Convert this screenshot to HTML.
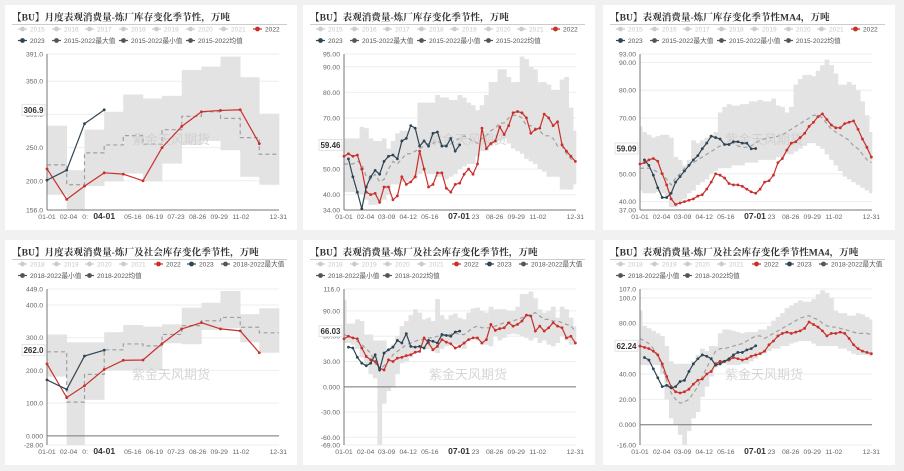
<!DOCTYPE html>
<html><head><meta charset="utf-8">
<style>
html,body{margin:0;padding:0;background:#f1f1f1;width:904px;height:471px;overflow:hidden}
svg{display:block}
text{font-family:"Liberation Sans","Noto Sans CJK SC",sans-serif}
.t{font-family:"Liberation Serif","Noto Serif CJK SC",serif;font-weight:bold;font-size:9.6px;fill:#333}
</style></head><body>
<svg id="c" width="904" height="471" xmlns="http://www.w3.org/2000/svg"></svg>
<script>
// ---- Panel 1: monthly refinery inventory change ----
const p1Max=[283,216,277,304,330,324,328,367,372,387,356,301];
const p1Min=[179,157,192,199,211,199,226,254,260,246,206,194];
const p1Mean=[224,194,242,254,268,255,277,297,304,294,265,240];
const p1Y2022=[218,172,192,212,210,200,250,282,304,306,307,256];
const p1Y2023=[201,216,286,306.9];
// ---- Panel 2: weekly refinery ----
const p2Max=[62,62,62,62,66.5,66,62,61,61,62,58,61,64,65,65,66,66,76,76,76,76,79,78,78,77,77,79,78,76,75,73,75,79,84,84,89,89,86,84,84,94,93,90,89,84,84,83,81,81,85,86,74,65];
const p2Min=[41,41,41,40,40,38,36,36,37,38,40,44,44,45,45,46,46,48,49,48,48,47,47,46,47,48,50,51,52,52,55,57,57,59,60,61,62,60,58,57,56,54,53,52,50,49,47,47,47,42,42,42,44];
const p2Mean=[52,52,52,53,52,47,46,48,45,46,50,53,52,54,56,56,57,58,59,60,60,61,60,59,60,61,62,63,62,61,60,62,63,65,66,68,68,70,71,71,70,67,67,66,65,63,63,62,59,59,56,54,53];
const p2Y2022=[55,56,55,55.5,50,41,40,40.5,37,43,43,38,39.5,47,44,45,47,57,50,43,44,48.5,48.5,42.5,41,44,44.5,48,50,48,52,66,58,60,61,66.5,63.5,67,72,72.5,72,70,64,65.5,66,71.5,70,67,68.5,59.5,57,55,53];
const p2Y2023=[54,47,41,34.5,43,47,49.5,48,53,55,55.5,54,61,62,67,66,59,61,59,64,64.5,59,59,62,57,59.46];
// ---- Panel 3: weekly refinery MA4 ----
const p3Max=[67,65,64,63,63.5,64,64,63,56,55,53,55,62,61,62,63,64,65,72,74,75,74.5,74.5,75,75,76,76,76.5,76,76,77,74.5,74,72,74,82,84,85.5,85.5,85,87,89,91,89,86,82,82,83,82,80,76,71,65];
const p3Min=[44,43,43,43,43.5,43,42,38,38,40,41,43,44,46,47,48,50,51,52,52,52,53,53,53,54,54,54,55,55,55,55,56,56,57,57,58,59,60,61,61,60,59,57,55,53,51,49,48,47,46,45,44,43];
const p3Mean=[52,52,52,51.5,50.5,50,48,46,48.5,50,52,53,54,55,56,57,58,59,60,60.5,61,61,60,59.5,59.5,60,61,62,62.5,63,63,63.5,64,65,66,67,68,69,70,71,71,70,68,66,65,64,63,62,60,59,57,55,54];
const p3Y2022=[53.5,54,55,55.5,54.5,50,46,41,39,39.5,40,40.5,41,42,42.5,44.5,47,50,49.5,48.5,46.5,46,46,45.5,44.5,43.5,43,44.5,47,47.5,49.5,54,55.5,58.5,61,61.5,63,64.5,67,68.5,70.5,71.5,69.5,67.5,66.5,66.5,68,68.5,69,66,62.5,59.5,56];
const p3Y2023=[55,53,49.5,45,41.5,41.5,43,47,49,51,53,55,56.5,59,61,63.5,63,62.5,60.5,60.5,61.5,61.5,61,61,59,59.09];
// ---- Panel 4: monthly refinery + social ----
const p4Max=[310,286,286,317,339,334,341,392,407,443,372,390];
const p4Min=[181,-28,110,201,201,201,283,280,324,329,286,254];
const p4Mean=[257,103,188,263,281,275,310,337,352,362,332,315];
const p4Y2022=[220,117,153,203,231,232,282,327,346,327,321,254];
const p4Y2023=[171,142,244,262];
// ---- Panel 5: weekly refinery + social ----
const p5Max=[103,75,75,80,78,62,62,55,55,55,45,50,60,72,78,85,92,88,80,82,78,104,85,80,85,87,82,80,88,93,94,90,88,95,92,92,92,90,90,95,110,110,113,105,92,88,90,95,82,95,92,82,72];
const p5Min=[52,52,50,45,35,25,15,10,-69,-20,-5,0,15,28,30,35,40,45,45,45,42,40,45,48,52,50,48,45,55,60,55,50,50,48,60,55,58,62,63,62,60,58,55,58,52,55,50,48,52,60,55,50,50];
const p5Mean=[62,60,58,54,50,45,40,28,20,25,30,38,42,46,50,52,54,56,56,58,58,60,60,62,62,64,62,62,66,70,72,70,70,70,72,74,76,76,78,80,82,84,86,88,84,80,80,78,78,76,74,72,66];
const p5Y2022=[57,60,58,57,46,36,32,30,22,20,32,30,34,35,37,38,41,42,58,52,44,48,56,53,51,46,48,52,56,58,58,52,56,74,67,69,70,76,72,74,78,85,84,66,72,66,70,76,72,70,58,60,52];
const p5Y2023=[47,46,35,28,25,28,38,20,40,44,47,55,52,63,48,47,48,46,55,54,52,62,61,60,65,66.03];
// ---- Panel 6: weekly refinery + social MA4 ----
const p6Max=[90,78,76,74,72,70,62,50,48,48,48,48,50,55,60,58,62,62,72,75,75,74,73,72,73,73,73,75,75,78,82,85,88,92,94,96,98,97,97,99,103,106,104,100,90,88,88,86,86,88,87,85,83];
const p6Min=[47,47,47,47,47,40,20,5,0,-8,-16,-5,5,10,22,30,38,45,48,48,47,47,47,48,48,50,52,55,56,58,60,60,62,62,64,65,66,66,66,64,62,62,62,62,62,60,60,58,56,55,55,55,54];
const p6Mean=[68,66,64,60,55,45,35,25,20,17,18,20,25,30,38,45,52,58,60,60,61,62,63,64,66,68,70,70,68,70,72,74,76,78,80,82,84,85,86,84,83,80,78,77,77,76,75,74,73,72,72,72,71];
const p6Y2022=[62,61,60,58,55,48,38,30,26,25,26,28,32,35,36,40,42,48,50,50,51,53,52,51,52,54,55,56,58,63,66,70,72,73,72,73,74,76,81,79,77,74,70,72,72,73,72,68,63,60,58,57,56];
const p6Y2023=[53,51,44,37,30,31,29,30,34,35,42,48,52,55,54,52,47,48,50,52,55,57,57,59,60,62.24];
// ---- ticks ----
const p1Ticks=[391,350,300,250,200,156], p1TickLbl=["391.0","350.0","300.0","250.0","200.0","156.0"];
const p2Ticks=[95,90,80,70,50,40,34], p2TickLbl=["95.00","90.00","80.00","70.00","50.00","40.00","34.00"];
const p3Ticks=[93,90,80,70,50,40,37], p3TickLbl=["93.00","90.00","80.00","70.00","50.00","40.00","37.00"];
const p4Ticks=[449,400,300,200,100,0,-28], p4TickLbl=["449.0","400.0","300.0","200.0","100.0","0.000","-28.00"];
const p5Ticks=[116,90,60,30,0,-30,-60,-69], p5TickLbl=["116.0","90.00","60.00","30.00","0.000","-30.00","-60.00","-69.00"];
const p6Ticks=[107,100,80,40,20,0,-16], p6TickLbl=["107.0","100.0","80.00","40.00","20.00","0.000","-16.00"];
const monthLbls=["01-01","02-04","0:","04-01","05-16","06-19","07-23","08-26","09-29","11-02","12-31"];
const monthLblDays=[0,34,60,90,135,169,203,237,271,305,364];
const weekLbls=["01-01","02-04","03-09","04-12","05-16","07-01","23","08-26","09-29","11-02","12-31"];
const weekLblDays=[0,34,67,101,135,181,207,237,271,305,364];

const NS="http://www.w3.org/2000/svg";
const svg=document.getElementById('c');
function mk(tag,attrs,parent,txt){const e=document.createElementNS(NS,tag);for(const k in attrs)e.setAttribute(k,attrs[k]);if(txt!==undefined)e.textContent=txt;(parent||svg).appendChild(e);return e;}
const monthStart=[0,31,59,90,120,151,181,212,243,273,304,334,365];

const panels=[
 {cx:5,cy:5,x0:47,x1:279,y0:54,y1:210,lo:156,hi:391,monthly:true,title:"【BU】月度表观消费量-炼厂库存变化季节性，万吨",yrs:["2015","2016","2017","2018","2019","2020","2021"],rng:"2015-2022",max:p1Max,min:p1Min,mean:p1Mean,a:p1Y2022,b:p1Y2023,ticks:p1Ticks,tl:p1TickLbl,hl:"306.9",hv:306.9,axisZero:false},
 {cx:303,cy:5,x0:344,x1:576,y0:54,y1:210,lo:34,hi:95,monthly:false,title:"【BU】表观消费量-炼厂库存变化季节性，万吨",yrs:["2015","2016","2017","2018","2019","2020","2021"],rng:"2015-2022",max:p2Max,min:p2Min,mean:p2Mean,a:p2Y2022,b:p2Y2023,ticks:p2Ticks,tl:p2TickLbl,hl:"59.46",hv:59.46,axisZero:false},
 {cx:603,cy:5,x0:640,x1:872,y0:54,y1:210,lo:37,hi:93,monthly:false,title:"【BU】表观消费量-炼厂库存变化季节性MA4，万吨",yrs:["2015","2016","2017","2018","2019","2020","2021"],rng:"2015-2022",max:p3Max,min:p3Min,mean:p3Mean,a:p3Y2022,b:p3Y2023,ticks:p3Ticks,tl:p3TickLbl,hl:"59.09",hv:59.09,axisZero:false},
 {cx:5,cy:240,x0:47,x1:279,y0:289,y1:445,lo:-28,hi:449,monthly:true,title:"【BU】月度表观消费量-炼厂及社会库存变化季节性，万吨",yrs:["2018","2019","2020","2021"],rng:"2018-2022",max:p4Max,min:p4Min,mean:p4Mean,a:p4Y2022,b:p4Y2023,ticks:p4Ticks,tl:p4TickLbl,hl:"262.0",hv:262,axisZero:true},
 {cx:303,cy:240,x0:344,x1:576,y0:289,y1:445,lo:-69,hi:116,monthly:false,title:"【BU】表观消费量-炼厂及社会库存变化季节性，万吨",yrs:["2018","2019","2020","2021"],rng:"2018-2022",max:p5Max,min:p5Min,mean:p5Mean,a:p5Y2022,b:p5Y2023,ticks:p5Ticks,tl:p5TickLbl,hl:"66.03",hv:66.03,axisZero:true},
 {cx:603,cy:240,x0:640,x1:872,y0:289,y1:445,lo:-16,hi:107,monthly:false,title:"【BU】表观消费量-炼厂及社会库存变化季节性MA4，万吨",yrs:["2018","2019","2020","2021"],rng:"2018-2022",max:p6Max,min:p6Min,mean:p6Mean,a:p6Y2022,b:p6Y2023,ticks:p6Ticks,tl:p6TickLbl,hl:"62.24",hv:62.24,axisZero:true}
];
const topLegendPos=[[13,0],[47,0],[80,0],[114,0],[147,0],[181,0],[214,0],[248,0],[13,1],[47,1],[114,1],[181,1]];
const botLegendPos=[[13,0],[47,0],[80,0],[114,0],[149,0],[182,0],[216,0],[13,1],[80,1]];

function legendItem(g,x,y,color,label,light){
  const it=mk('g',{},g);
  
  
  mk('line',{x1:x,y1:y,x2:x+9,y2:y,stroke:color,'stroke-width':1.2},it);
  mk('circle',{cx:x+4.5,cy:y,r:2.4,fill:color},it);
  mk('text',{x:x+12,y:y+2.3,'font-size':6.6,fill:light?'#c8c8c8':'#555'},it,label);
}

panels.forEach((p,pi)=>{
  const g=mk('g',{});
  
  
  const card=mk('rect',{x:p.cx,y:p.cy,width:292,height:225,fill:'#fff'},g);
  
  
  const t=mk('text',{x:p.cx+7,y:p.cy+15.5,class:'t'},g,p.title);
  
  
  mk('line',{x1:p.cx+7,y1:p.cy+19.5,x2:p.cx+282,y2:p.cy+19.5,stroke:'#bbb','stroke-width':0.8},g);
  const lg=mk('g',{},g);
  
  
  const items=p.yrs.map(y=>[y,'#ccc',true]).concat([["2022",'#c9302c',false],["2023",'#2f4554',false],[p.rng+"最大值",'#555',false],[p.rng+"最小值",'#555',false],[p.rng+"均值",'#555',false]]);
  const pos=p.yrs.length===7?topLegendPos:botLegendPos;
  items.forEach((it,i)=>{
    legendItem(lg,p.cx+pos[i][0],p.cy+24+pos[i][1]*11.5,it[1],it[0],it[2]);
  });
  const X=d=>p.x0+(p.x1-p.x0)*d/365;
  const Y=v=>p.y1-(v-p.lo)/(p.hi-p.lo)*(p.y1-p.y0);
  p.ticks.forEach((v,i)=>{
    mk('line',{x1:p.x0,y1:Y(v),x2:p.x1,y2:Y(v),stroke:'#eee','stroke-width':1},g);
    const tl=mk('text',{x:p.x0-4,y:Y(v)+2.5,'font-size':6.8,fill:'#666','text-anchor':'end'},g,p.tl[i]);
    
    
  });
  const bg=mk('g',{},g);
  
  
  const n=p.max.length;
  for(let i=0;i<n;i++){
    let a,b;
    if(p.monthly){a=monthStart[i];b=monthStart[i+1];}
    else{a=Math.max(0,i*7-3.5);b=Math.min(365,i*7+3.5);}
    const r=mk('rect',{x:X(a),y:Y(p.max[i]),width:X(b)-X(a)+0.3,height:Math.max(0,Y(p.min[i])-Y(p.max[i])),fill:'#e3e3e3'},bg);
    
    
  }
  let md='';
  if(p.monthly){p.mean.forEach((v,i)=>{md+=(i?'L':'M')+X(monthStart[i])+' '+Y(v)+'L'+X(monthStart[i+1])+' '+Y(v);});}
  else{p.mean.forEach((v,i)=>{md+=(i?'L':'M')+X(i*7)+' '+Y(v);});}
  const ml=mk('path',{d:md,fill:'none',stroke:'#a0a0a0','stroke-width':1.2,'stroke-dasharray':'4,3'},g);
  
  
  const zy=p.axisZero?Y(0):p.y1;
  mk('line',{x1:p.x0,y1:p.y0,x2:p.x0,y2:p.y1,stroke:'#777','stroke-width':1},g);
  mk('line',{x1:p.x0,y1:zy,x2:p.x1,y2:zy,stroke:'#777','stroke-width':1},g);
  const wm=mk('text',{x:(p.x0+p.x1)/2+8,y:(p.y0+p.y1)/2+12,'font-size':13,fill:'#ccc','text-anchor':'middle','opacity':0.8},g,'紫金天风期货');
  
  
  const dayOf=i=>p.monthly?monthStart[i]:i*7;
  [[p.a,'#c9302c',0,'series-2022'],[p.b,'#2f4554',p.monthly?0:1,'series-2023']].forEach(([arr,col,off,name])=>{
    const sg=mk('g',{},g);
    
    
    let d='';
    arr.forEach((v,i)=>{d+=(i?'L':'M')+X(dayOf(i+off))+' '+Y(v);});
    mk('path',{d:d,fill:'none',stroke:col,'stroke-width':1.2},sg);
    arr.forEach((v,i)=>{
      const c=mk('circle',{cx:X(dayOf(i+off)),cy:Y(v),r:1.4,fill:col},sg);
      
      
    });
  });
  const hy=Y(p.hv);
  const hb=mk('g',{},g);
  
  
  mk('rect',{x:p.x0-25,y:hy-5.5,width:23,height:11,fill:'#fff',stroke:'#ddd','stroke-width':0.8},hb);
  mk('text',{x:p.x0-13.5,y:hy+3,'font-size':8,'font-weight':'bold',fill:'#333','text-anchor':'middle'},hb,p.hl);
  const xl=p.monthly?monthLbls:weekLbls, xd=p.monthly?monthLblDays:weekLblDays;
  xl.forEach((l,i)=>{
    const bold=(l==="04-01"||l==="07-01");
    const e=mk('text',{x:X(xd[i]),y:p.y1+9,'font-size':bold?8.5:6.8,'font-weight':bold?'bold':'normal',fill:bold?'#333':'#666','text-anchor':'middle'},g,l);
    
    
  });
});
</script>
</body></html>
